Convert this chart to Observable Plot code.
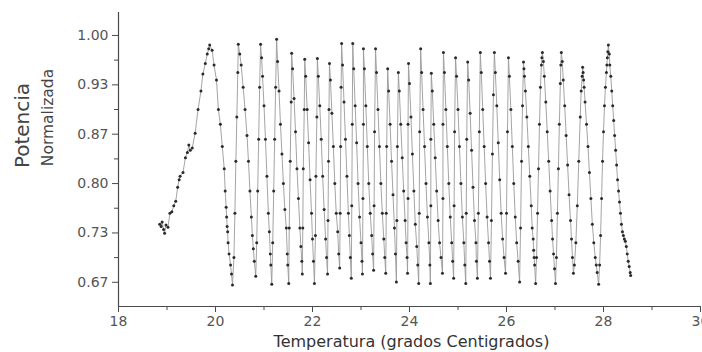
<!DOCTYPE html>
<html>
<head>
<meta charset="utf-8">
<script src="https://cdn.jsdelivr.net/npm/d3@7"></script>
<script src="https://cdn.jsdelivr.net/npm/@observablehq/plot@0.6"></script>
<style>
  html, body { margin: 0; padding: 0; background: #fff; overflow: hidden; }
</style>
</head>
<body>
<div id="chart"></div>
<script>
// Lecturas: [temperatura (°C), potencia normalizada]
const lecturas = [
  [18.85,0.745],[18.88,0.742],[18.90,0.748],[18.93,0.738],[18.95,0.733],[18.98,0.744],[19.02,0.741],
  [19.06,0.760],[19.10,0.762],[19.14,0.770],[19.18,0.776],[19.22,0.795],[19.25,0.805],[19.27,0.810],[19.33,0.815],[19.38,0.835],[19.42,0.842],[19.45,0.852],[19.48,0.845],[19.52,0.848],[19.58,0.868],[19.64,0.900],[19.70,0.925],[19.74,0.948],[19.79,0.962],[19.83,0.975],[19.86,0.982],[19.88,0.987],
  [19.93,0.980],[19.97,0.960],[20.02,0.940],[20.06,0.900],[20.10,0.880],[20.14,0.850],[20.18,0.820],[20.20,0.790],[20.22,0.768],[20.23,0.755],[20.24,0.742],[20.25,0.735],[20.26,0.720],[20.28,0.705],[20.31,0.690],[20.33,0.678],[20.35,0.663],
  [20.38,0.700],[20.40,0.760],[20.42,0.830],[20.44,0.890],[20.46,0.950],[20.47,0.988],
  [20.50,0.975],[20.53,0.960],[20.57,0.930],[20.61,0.900],[20.65,0.865],[20.68,0.830],[20.71,0.790],[20.74,0.755],[20.76,0.730],[20.78,0.712],[20.80,0.695],[20.83,0.675],
  [20.85,0.720],[20.87,0.790],[20.89,0.860],[20.91,0.930],[20.93,0.988],
  [20.95,0.970],[20.97,0.945],[21.00,0.905],[21.03,0.860],[21.06,0.810],[21.09,0.760],[21.11,0.735],[21.13,0.705],[21.14,0.690],[21.16,0.664],
  [21.18,0.720],[21.20,0.790],[21.22,0.860],[21.24,0.930],[21.26,0.995],
  [21.28,0.965],[21.31,0.925],[21.34,0.880],[21.37,0.840],[21.40,0.800],[21.43,0.765],[21.46,0.740],[21.48,0.705],[21.49,0.690],[21.51,0.665],
  [21.52,0.740],[21.54,0.830],[21.56,0.910],[21.57,0.976],
  [21.59,0.955],[21.62,0.915],[21.65,0.870],[21.68,0.820],[21.71,0.780],[21.74,0.740],[21.76,0.715],[21.78,0.695],[21.79,0.678],
  [21.80,0.740],[21.81,0.820],[21.83,0.900],[21.84,0.968],
  [21.86,0.945],[21.89,0.900],[21.92,0.855],[21.95,0.805],[21.98,0.760],[22.00,0.725],[22.02,0.695],[22.04,0.665],
  [22.06,0.730],[22.07,0.810],[22.09,0.890],[22.10,0.969],
  [22.12,0.945],[22.15,0.905],[22.18,0.860],[22.21,0.810],[22.24,0.765],[22.27,0.725],[22.29,0.700],[22.31,0.678],
  [22.32,0.750],[22.33,0.830],[22.34,0.900],[22.35,0.962],
  [22.37,0.940],[22.40,0.895],[22.43,0.850],[22.46,0.800],[22.49,0.760],[22.52,0.735],[22.54,0.705],[22.56,0.686],
  [22.57,0.760],[22.58,0.850],[22.59,0.930],[22.60,0.989],
  [22.62,0.960],[22.65,0.910],[22.68,0.860],[22.71,0.810],[22.74,0.760],[22.76,0.730],[22.78,0.700],[22.80,0.672],
  [22.81,0.770],[22.82,0.880],[22.83,0.989],
  [22.85,0.955],[22.88,0.905],[22.91,0.855],[22.94,0.800],[22.97,0.755],[23.00,0.720],[23.02,0.695],[23.03,0.678],
  [23.04,0.780],[23.05,0.880],[23.05,0.982],
  [23.07,0.955],[23.10,0.905],[23.13,0.850],[23.16,0.800],[23.19,0.760],[23.22,0.730],[23.24,0.705],[23.26,0.683],
  [23.27,0.770],[23.28,0.870],[23.30,0.982],
  [23.32,0.950],[23.35,0.900],[23.38,0.850],[23.41,0.800],[23.44,0.760],[23.47,0.725],[23.49,0.700],[23.51,0.679],
  [23.52,0.760],[23.53,0.850],[23.55,0.955],
  [23.57,0.925],[23.60,0.880],[23.63,0.830],[23.66,0.785],[23.69,0.740],[23.71,0.705],[23.73,0.667],
  [23.74,0.750],[23.75,0.850],[23.77,0.950],
  [23.79,0.925],[23.82,0.880],[23.85,0.835],[23.88,0.790],[23.91,0.750],[23.93,0.720],[23.95,0.700],[23.96,0.679],
  [23.97,0.780],[23.97,0.880],[23.98,0.962],
  [24.00,0.935],[24.03,0.890],[24.06,0.840],[24.09,0.790],[24.12,0.745],[24.15,0.715],[24.17,0.690],[24.19,0.665],
  [24.20,0.760],[24.21,0.870],[24.23,0.982],
  [24.25,0.950],[24.28,0.900],[24.31,0.850],[24.34,0.800],[24.37,0.755],[24.40,0.720],[24.42,0.690],[24.43,0.665],
  [24.44,0.770],[24.44,0.860],[24.45,0.949],
  [24.47,0.925],[24.50,0.880],[24.53,0.835],[24.56,0.790],[24.59,0.750],[24.62,0.720],[24.65,0.700],[24.68,0.679],
  [24.69,0.780],[24.69,0.880],[24.70,0.977],
  [24.72,0.950],[24.75,0.900],[24.78,0.850],[24.81,0.800],[24.84,0.755],[24.87,0.720],[24.89,0.695],[24.91,0.672],
  [24.92,0.770],[24.93,0.870],[24.95,0.970],
  [24.97,0.945],[25.00,0.900],[25.03,0.850],[25.06,0.800],[25.09,0.755],[25.12,0.720],[25.14,0.690],[25.16,0.665],
  [25.17,0.760],[25.18,0.860],[25.20,0.964],
  [25.22,0.940],[25.25,0.895],[25.28,0.845],[25.31,0.795],[25.34,0.750],[25.37,0.720],[25.38,0.695],[25.40,0.672],
  [25.42,0.760],[25.44,0.870],[25.46,0.977],
  [25.48,0.950],[25.51,0.900],[25.54,0.850],[25.57,0.800],[25.60,0.755],[25.63,0.720],[25.65,0.695],[25.67,0.672],
  [25.69,0.750],[25.71,0.840],[25.73,0.920],[25.75,0.977],
  [25.77,0.950],[25.80,0.905],[25.83,0.855],[25.86,0.805],[25.89,0.760],[25.92,0.725],[25.95,0.700],[25.98,0.679],
  [26.00,0.760],[26.02,0.870],[26.04,0.970],
  [26.06,0.945],[26.09,0.900],[26.12,0.850],[26.15,0.800],[26.18,0.755],[26.21,0.720],[26.24,0.695],[26.27,0.667],
  [26.29,0.740],[26.31,0.830],[26.33,0.905],[26.35,0.964],
  [26.36,0.955],[26.37,0.945],[26.39,0.925],[26.42,0.890],[26.45,0.850],[26.48,0.810],[26.51,0.770],[26.53,0.740],[26.55,0.725],[26.56,0.710],[26.57,0.700],[26.58,0.690],[26.60,0.665],
  [26.62,0.700],[26.64,0.760],[26.66,0.820],[26.68,0.880],[26.70,0.930],[26.72,0.960],[26.73,0.970],[26.74,0.977],
  [26.76,0.965],[26.78,0.945],[26.81,0.910],[26.84,0.870],[26.87,0.830],[26.90,0.790],[26.93,0.750],[26.95,0.725],[26.97,0.705],[26.99,0.685],[27.01,0.665],
  [27.03,0.700],[27.05,0.760],[27.07,0.820],[27.09,0.880],[27.11,0.935],[27.12,0.960],[27.13,0.977],
  [27.15,0.965],[27.17,0.940],[27.20,0.905],[27.23,0.865],[27.26,0.825],[27.29,0.785],[27.32,0.750],[27.34,0.725],[27.36,0.700],[27.38,0.679],
  [27.40,0.690],[27.43,0.720],[27.46,0.770],[27.49,0.830],[27.52,0.890],[27.54,0.925],[27.56,0.945],[27.57,0.957],
  [27.58,0.950],[27.59,0.940],[27.60,0.930],[27.62,0.910],[27.65,0.880],[27.68,0.850],[27.71,0.815],[27.74,0.780],[27.77,0.745],[27.80,0.720],[27.83,0.700],[27.85,0.690],[27.87,0.680],[27.90,0.664],
  [27.92,0.690],[27.94,0.730],[27.96,0.780],[27.98,0.830],[28.00,0.870],[28.02,0.905],[28.04,0.930],[28.06,0.950],[28.07,0.960],[28.08,0.970],[28.09,0.978],[28.10,0.987],
  [28.12,0.975],[28.13,0.960],[28.15,0.945],[28.17,0.925],[28.19,0.905],[28.21,0.885],[28.23,0.865],[28.25,0.845],[28.27,0.825],[28.29,0.805],[28.31,0.790],[28.33,0.775],[28.35,0.760],[28.37,0.745],[28.39,0.735],[28.41,0.730],[28.43,0.725],[28.45,0.722],[28.47,0.715],[28.49,0.705],[28.51,0.695],[28.53,0.688],[28.55,0.680],[28.56,0.676]
];

const xTicks = [18, 20, 22, 24, 26, 28, 30];
const xTickLabels = ["18", "20", "22", "24", "26", "28", "30"];
const xMinorTicks = [19, 21, 23, 25, 27, 29];
const yTicks = [0.6667, 0.7333, 0.8, 0.8667, 0.9333, 1.0];
const yTickLabels = ["0.67", "0.73", "0.80", "0.87", "0.93", "1.00"];
const yMinorTicks = [0.7, 0.7667, 0.8333, 0.9, 0.9667];
const xTitle = "Temperatura (grados Centigrados)";
const yTitle1 = "Potencia";
const yTitle2 = "Normalizada";

const axisColor = "#4a4a4a";
const font = "DejaVu Sans, Liberation Sans, Arial, sans-serif";

const chart = Plot.plot({
  width: 702,
  height: 352,
  marginLeft: 118,
  marginRight: 2,
  marginTop: 12,
  marginBottom: 46,
  style: { fontFamily: font, background: "#fff", color: axisColor, overflow: "visible" },
  x: { domain: [18, 30] },
  y: { domain: [0.634, 1.031] },
  marks: [
    Plot.ruleX([18], { stroke: axisColor, strokeWidth: 1.2 }),
    Plot.ruleY([0.634], { stroke: axisColor, strokeWidth: 1.2 }),
    Plot.axisX({
      ticks: xTicks, tickSize: 6, tickPadding: 4,
      tickFormat: (d, i) => xTickLabels[i],
      fontSize: 14, fill: "#555", stroke: axisColor, label: null
    }),
    Plot.axisX({ ticks: xMinorTicks, tickSize: 4, text: null, stroke: axisColor, label: null }),
    Plot.axisY({
      ticks: yTicks, tickSize: 6, tickPadding: 4,
      tickFormat: (d, i) => yTickLabels[i],
      fontSize: 14, fill: "#555", stroke: axisColor, label: null
    }),
    Plot.axisY({ ticks: yMinorTicks, tickSize: 4, text: null, stroke: axisColor, label: null }),
    Plot.line(lecturas, { x: d => d[0], y: d => d[1], stroke: "#9a9a9a", strokeWidth: 0.9 }),
    Plot.dot(lecturas, { x: d => d[0], y: d => d[1], r: 1.5, fill: "#2a2a2a" }),
    Plot.text([xTitle], { text: d => d, frameAnchor: "bottom", textAnchor: "middle", lineAnchor: "middle", dx: 2, dy: 35, fontSize: 16, fill: "#333" }),
    Plot.text([yTitle1], { text: d => d, frameAnchor: "left", textAnchor: "middle", lineAnchor: "middle", rotate: -90, dx: -96, dy: -34, fontSize: 20, fill: "#444" }),
    Plot.text([yTitle2], { text: d => d, frameAnchor: "left", textAnchor: "middle", lineAnchor: "middle", rotate: -90, dx: -70, dy: -42, fontSize: 15.5, fill: "#444" })
  ]
});
document.getElementById("chart").appendChild(chart);
</script>
</body>
</html>
